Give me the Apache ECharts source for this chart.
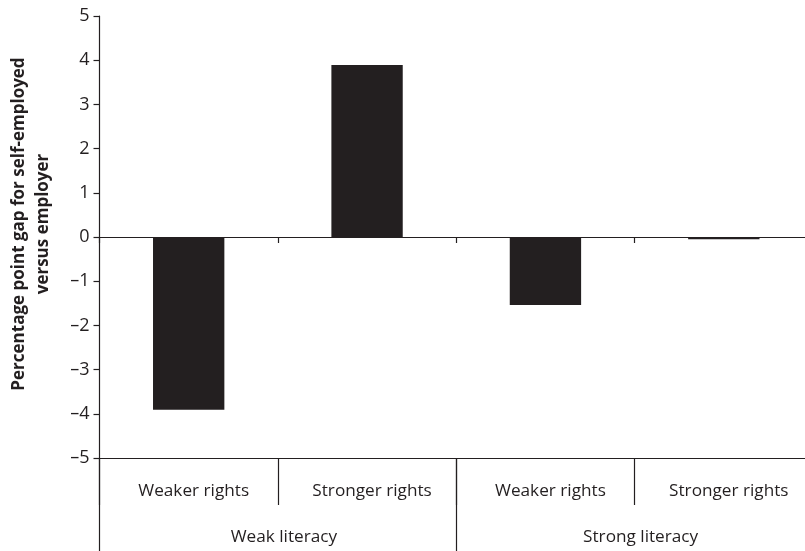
<!DOCTYPE html>
<html>
<head>
<meta charset="utf-8" />
<title>Percentage point gap</title>
<script src="https://cdn.jsdelivr.net/npm/echarts@6/dist/echarts.min.js"></script>
<style>
  html, body { margin: 0; padding: 0; background: #fff; }
  #chart { width: 805px; height: 551px; }
</style>
</head>
<body>
<div id="chart"></div>
<script>
// data
var rightsLabels = ['Weaker rights', 'Stronger rights', 'Weaker rights', 'Stronger rights'];
var literacyLabels = ['Weak literacy', 'Strong literacy'];
var gapValues = [-3.91, 3.89, -1.54, -0.05];
var yTicks = [-5, -4, -3, -2, -1, 0, 1, 2, 3, 4, 5];

var ink = '#231f20';
var font = 'Open Sans';

var chart = echarts.init(document.getElementById('chart'));

var option = {
  animation: false,
  backgroundColor: '#fff',
  // the plot runs a little past the right edge of the picture
  grid: { left: 99.5, right: -8, top: 16, bottom: 93, outerBoundsMode: 'none', containLabel: false },
  xAxis: [
    {
      // axis line through zero with ticks between bars
      type: 'category',
      data: rightsLabels,
      axisLine: { onZero: true, lineStyle: { color: ink, width: 1.2 } },
      axisTick: { show: true, length: 6, lineStyle: { color: ink, width: 1.2 } },
      axisLabel: { show: false }
    },
    {
      // first row of labels under the plot
      type: 'category',
      position: 'bottom',
      data: rightsLabels,
      axisLine: { onZero: false, lineStyle: { color: ink, width: 1.2 } },
      axisTick: { show: true, length: 47, lineStyle: { color: ink, width: 1.2 } },
      axisLabel: { margin: 25, fontFamily: font, fontSize: 17.2, color: ink, padding: [0, 0, 0, 10] }
    },
    {
      // group row
      type: 'category',
      position: 'bottom',
      data: literacyLabels,
      axisLine: { show: false, onZero: false },
      axisTick: { show: true, length: 93, lineStyle: { color: ink, width: 1.2 } },
      axisLabel: { margin: 71, fontFamily: font, fontSize: 17.2, color: ink, padding: [0, 0, 0, 12] }
    }
  ],
  yAxis: {
    type: 'value',
    min: yTicks[0],
    max: yTicks[yTicks.length - 1],
    interval: 1,
    name: 'Percentage point gap for self-employed\nversus employer',
    nameLocation: 'middle',
    nameRotate: 90,
    nameGap: 44,
    nameTextStyle: { fontFamily: font, fontSize: 17, fontWeight: 'bold', color: ink, lineHeight: 24, padding: [0, 0, 0, 26] },
    axisLine: { show: true, lineStyle: { color: ink, width: 1.2 } },
    axisTick: { show: true, length: 6, lineStyle: { color: ink, width: 1.2 } },
    splitLine: { show: false },
    axisLabel: {
      margin: 10,
      fontFamily: font,
      fontSize: 18,
      color: ink,
      formatter: function (v) { return v < 0 ? '\u2013' + Math.abs(v) : String(v); }
    }
  },
  series: [
    {
      type: 'bar',
      xAxisIndex: 1,
      data: gapValues,
      barWidth: '40%',
      itemStyle: { color: ink }
    }
  ]
};

chart.setOption(option);
</script>
</body>
</html>
